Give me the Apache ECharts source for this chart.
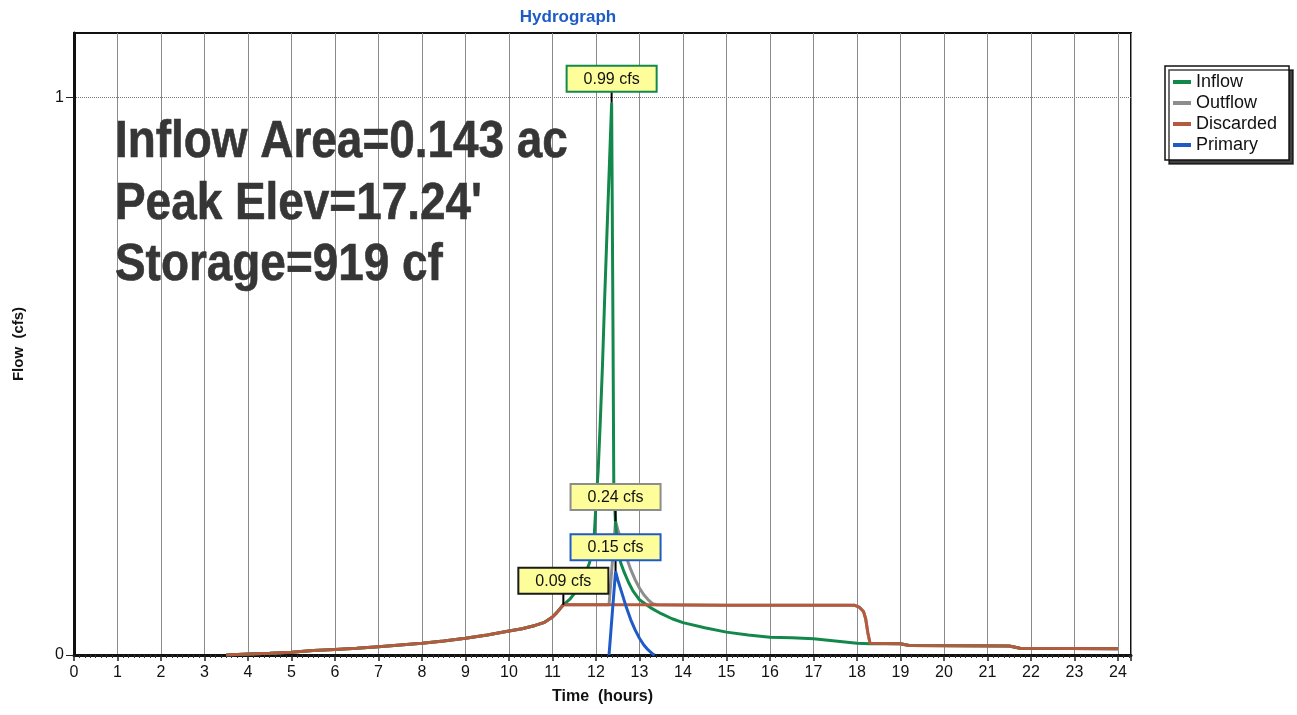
<!DOCTYPE html>
<html>
<head>
<meta charset="utf-8">
<script src="https://cdn.jsdelivr.net/npm/echarts@6/dist/echarts.min.js"></script>
<style>
html,body{margin:0;padding:0;background:#fff;}
#chart{width:1297px;height:715px;}
</style>
</head>
<body>
<div id="chart"></div>
<script>
// ---- Data (time in hours, flow in cfs) ----
const seriesNames = ['Inflow', 'Outflow', 'Discarded', 'Primary'];
const seriesColors = ['#12894b', '#8d8d8d', '#b55a3c', '#1f5bc6'];

const inflow = [
  [3.5,0],[4,0.002],[4.5,0.003],[5,0.005],[5.5,0.008],[6,0.01],[6.5,0.012],[7,0.015],[7.5,0.018],
  [8,0.021],[8.5,0.025],[9,0.03],[9.5,0.036],[10,0.043],[10.3,0.047],[10.6,0.053],[10.8,0.058],
  [11.0,0.068],[11.1,0.076],[11.25,0.09],[11.4,0.1],[11.55,0.115],[11.7,0.135],[11.85,0.165],
  [11.95,0.2],[12.0,0.27],[12.05,0.33],[12.1,0.42],[12.15,0.52],[12.2,0.64],[12.25,0.75],
  [12.3,0.86],[12.36,0.99],[12.39,0.6],[12.41,0.3],[12.45,0.235],[12.5,0.195],[12.57,0.165],
  [12.65,0.148],[12.75,0.13],[12.85,0.115],[13.0,0.099],[13.25,0.085],[13.5,0.074],[13.75,0.065],
  [14.0,0.058],[14.5,0.049],[15.0,0.041],[15.5,0.036],[16.0,0.032],[16.5,0.031],[17.0,0.029],
  [17.5,0.025],[18.0,0.021],[18.3,0.02],[19,0.02],[19.2,0.017],[21.5,0.016],[21.75,0.012],[24,0.011]
];

const outflow = [
  [3.5,0],[4,0.002],[4.5,0.003],[5,0.005],[5.5,0.008],[6,0.01],[6.5,0.012],[7,0.015],[7.5,0.018],
  [8,0.021],[8.5,0.025],[9,0.03],[9.5,0.036],[10,0.043],[10.3,0.047],[10.6,0.053],[10.8,0.058],
  [11.0,0.068],[11.1,0.076],[11.25,0.09],[12.3,0.09],[12.35,0.14],[12.4,0.19],[12.45,0.24],
  [12.5,0.225],[12.6,0.2],[12.7,0.175],[12.8,0.153],[12.9,0.135],[13.0,0.12],[13.1,0.108],
  [13.2,0.099],[13.3,0.092],[13.4,0.09],[15,0.089],[17.95,0.089],[18.05,0.086],[18.15,0.078],
  [18.2,0.065],[18.25,0.04],[18.3,0.021],[19,0.02],[19.2,0.017],[21.5,0.016],[21.75,0.012],[24,0.011]
];

const discarded = [
  [3.5,0],[4,0.002],[4.5,0.003],[5,0.005],[5.5,0.008],[6,0.01],[6.5,0.012],[7,0.015],[7.5,0.018],
  [8,0.021],[8.5,0.025],[9,0.03],[9.5,0.036],[10,0.043],[10.3,0.047],[10.6,0.053],[10.8,0.058],
  [11.0,0.068],[11.1,0.076],[11.25,0.09],[13,0.09],[15,0.089],[17.95,0.089],[18.05,0.086],
  [18.15,0.078],[18.2,0.065],[18.25,0.04],[18.3,0.021],[19,0.02],[19.2,0.017],[21.5,0.016],
  [21.75,0.012],[24,0.011]
];

const primary = [
  [12.3,0],[12.35,0.05],[12.4,0.1],[12.45,0.15],[12.5,0.135],[12.6,0.11],[12.7,0.085],
  [12.8,0.063],[12.9,0.045],[13.0,0.03],[13.1,0.018],[13.2,0.009],[13.3,0.002],[13.35,0]
];

// peak callouts: [time, flow, text, border colour]
const peakLabels = [
  [12.36, 0.99, '0.99 cfs', '#12894b'],
  [12.45, 0.24, '0.24 cfs', '#8d8d8d'],
  [12.45, 0.15, '0.15 cfs', '#1f5bc6'],
  [11.25, 0.09, '0.09 cfs', '#1a1a1a']
];

const titleText = 'Hydrograph';
const infoLines = ['Inflow Area=0.143 ac', "Peak Elev=17.24'", 'Storage=919 cf'];
const xName = 'Time  (hours)';
const yName = 'Flow  (cfs)';
const yTickValues = [0, 1];

const FONT = '"Liberation Sans", Arial, Helvetica, sans-serif';

const chart = echarts.init(document.getElementById('chart'), null, {renderer: 'canvas'});

function lineSeries(idx, data, z) {
  return {
    name: seriesNames[idx],
    type: 'line',
    data: data,
    showSymbol: false,
    symbol: 'none',
    z: z,
    lineStyle: {color: seriesColors[idx], width: 3},
    itemStyle: {color: seriesColors[idx]}
  };
}

const series = [
  lineSeries(1, outflow, 2),
  lineSeries(0, inflow, 3),
  lineSeries(2, discarded, 4),
  lineSeries(3, primary, 5)
];

series[3].markPoint = {
  symbol: 'rect',
  symbolSize: [2, 12],
  symbolOffset: [0, -6],
  itemStyle: {color: '#000'},
  label: {
    show: true,
    position: 'top',
    distance: 0,
    formatter: '{b}',
    color: '#111',
    fontSize: 16,
    fontFamily: FONT,
    backgroundColor: '#fdfd9a',
    borderWidth: 2,
    padding: [3, 16, 2, 16],
    lineHeight: 19
  },
  data: peakLabels.map(p => ({
    coord: [p[0], p[1]],
    name: p[2],
    label: {borderColor: p[3]}
  }))
};

const option = {
  animation: false,
  backgroundColor: '#fff',
  grid: {
    left: 74, right: 166, top: 33, bottom: 60,
    show: true, borderColor: '#111', borderWidth: 2
  },
  legend: {
    data: seriesNames,
    orient: 'vertical',
    left: 1165, top: 66,
    icon: 'rect',
    itemWidth: 18, itemHeight: 4, itemGap: 3,
    textStyle: {fontSize: 18, color: '#111', fontFamily: FONT},
    backgroundColor: '#fff',
    borderColor: '#111', borderWidth: 1.5,
    padding: [7, 12, 6, 8],
    shadowColor: 'rgba(0,0,0,0.75)', shadowOffsetX: 4, shadowOffsetY: 4, shadowBlur: 0
  },
  xAxis: {
    type: 'value', min: 0, max: 24.3, interval: 1,
    name: xName, nameLocation: 'middle', nameGap: 34,
    nameTextStyle: {fontWeight: 'bold', fontSize: 16, color: '#111', fontFamily: FONT},
    axisLine: {onZero: false, lineStyle: {color: '#111', width: 3}},
    axisTick: {show: true, length: 6, lineStyle: {color: '#222', width: 1.5}},
    minorTick: {show: true, splitNumber: 8, length: 3, lineStyle: {color: '#333', width: 1}},
    axisLabel: {
      fontSize: 16, color: '#111', margin: 10, fontFamily: FONT,
      formatter: v => (Math.abs(v - Math.round(v)) < 1e-6 ? String(Math.round(v)) : '')
    },
    splitLine: {show: true, lineStyle: {color: '#8a8a8a', width: 1}}
  },
  yAxis: {
    type: 'value', min: 0, max: 1.115, interval: 1,
    name: yName, nameLocation: 'middle', nameGap: 48, nameRotate: 90,
    nameTextStyle: {fontWeight: 'bold', fontSize: 15, color: '#111', fontFamily: FONT},
    axisLine: {show: true, lineStyle: {color: '#111', width: 3}},
    axisTick: {show: true, length: 8, customValues: yTickValues, lineStyle: {color: '#222', width: 1}},
    axisLabel: {fontSize: 16, color: '#111', margin: 10, fontFamily: FONT, customValues: yTickValues},
    splitLine: {show: true, lineStyle: {color: '#777', width: 1, type: 'dotted'}}
  },
  graphic: [
    {
      type: 'text', x: 568, y: 17, z: 10,
      style: {text: titleText, fill: '#1c5cc4', font: 'bold 17px ' + FONT, align: 'center', verticalAlign: 'middle'}
    }
  ].concat(infoLines.map((t, i) => ({
    type: 'text', x: 115, y: 143 + i * 61.5, scaleX: 0.9, z: 10,
    style: {
      text: t, fill: '#363636', font: 'bold 51px ' + FONT,
      stroke: '#363636', lineWidth: 0.6,
      align: 'left', verticalAlign: 'middle',
      shadowColor: 'rgba(0,0,0,0.3)', shadowOffsetX: 2, shadowOffsetY: 2, shadowBlur: 1
    }
  }))),
  series: series
};

chart.setOption(option);
</script>
</body>
</html>
